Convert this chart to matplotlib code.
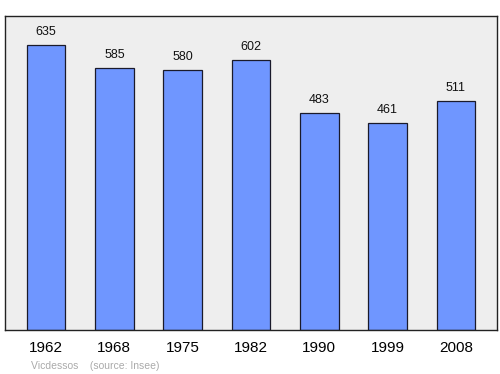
import matplotlib
matplotlib.use("Agg")
from matplotlib import pyplot as plt

plt.rcParams["font.family"] = ["Liberation Sans", "DejaVu Sans"]

years = ["1962", "1968", "1975", "1982", "1990", "1999", "2008"]
population = [635, 585, 580, 602, 483, 461, 511]

fig = plt.figure(figsize=(5, 3.74), dpi=100)
ax = fig.add_axes([0.01, 0.1176, 0.984, 0.8396])
ax.set_facecolor("#eeeeee")

x = range(len(years))
ax.bar(x, population, width=0.57, color="#6f96ff", edgecolor="#1a1a2a", linewidth=0.9, zorder=2)
for i, v in enumerate(population):
    ax.annotate(str(v), (i, v), xytext=(0, 5), textcoords="offset points",
                ha="center", va="bottom", fontsize=9, color="#111111")

ax.set_xlim(-0.6, 6.6)
ax.set_ylim(0, 700)
ax.set_xticks(list(x))
ax.set_xticklabels(years, fontsize=11)
ax.tick_params(axis="x", length=0, pad=8)
ax.set_yticks([])
for s in ax.spines.values():
    s.set_color("#222222")
    s.set_linewidth(1.0)

fig.text(0.062, 0.008, "Vicdessos    (source: Insee)", fontsize=7.5, color="#aaaaaa", va="bottom")

fig.savefig("out.png", dpi=100)
